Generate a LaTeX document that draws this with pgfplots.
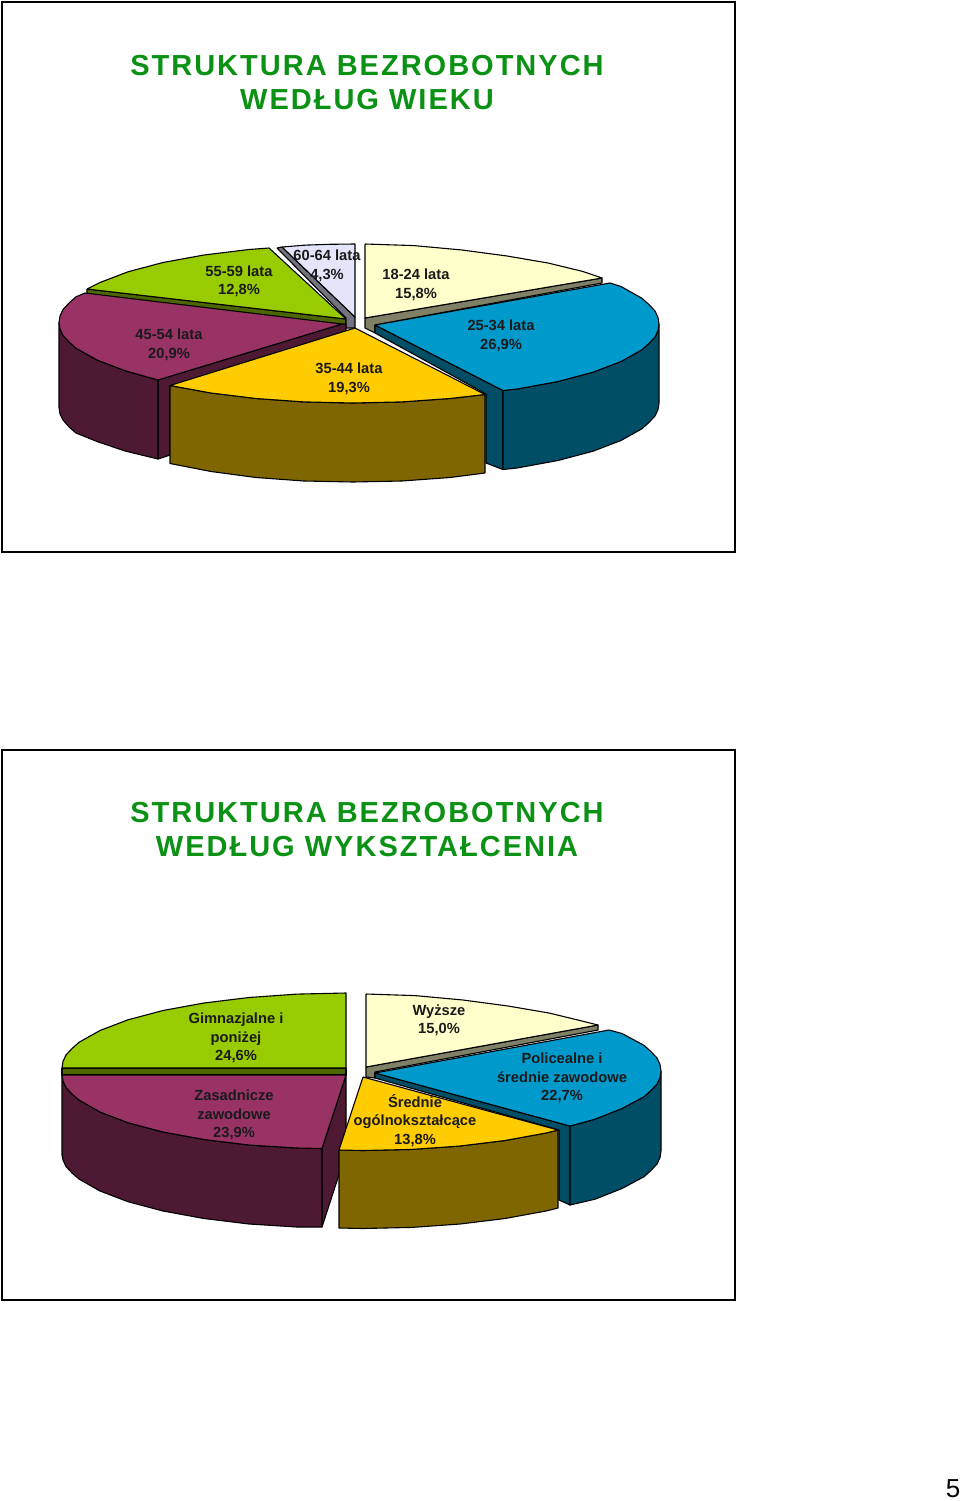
\documentclass[border=0pt]{standalone}
\usepackage{fontspec}
\usepackage{pgfplots}
\pgfplotsset{compat=1.18}
\setmainfont{Liberation Sans}
\newfontfamily\titlefont[LetterSpace=6.9]{Liberation Sans}
\definecolor{ttl}{HTML}{0B9214}
\definecolor{zgreen}{HTML}{99CC00}\definecolor{dgreen}{HTML}{4D6600}
\definecolor{zlav}{HTML}{E4E4FB}\definecolor{dlav}{HTML}{737380}
\definecolor{zpur}{HTML}{993366}\definecolor{dpur}{HTML}{4D1933}
\definecolor{zyel}{HTML}{FFCC00}\definecolor{dyel}{HTML}{806600}
\definecolor{zcre}{HTML}{FFFFCC}\definecolor{dcre}{HTML}{808066}
\definecolor{zblu}{HTML}{0099CC}\definecolor{dblu}{HTML}{004D66}
\definecolor{lbl}{HTML}{1A1A1A}
\tikzset{
  facet/.style={draw=black, line width=1.1pt, line join=round, mark=none},
  lab/.style={align=center, text=lbl, font=\fontsize{14.7}{18.5}\selectfont\bfseries},
  head/.style={align=center, text=ttl, font=\fontsize{29}{34}\titlefont\bfseries}}
\begin{document}
\begin{tikzpicture}
\useasboundingbox (0,0) rectangle (960pt,1501pt);
\begin{axis}[at={(0,0)}, anchor=south west, scale only axis, width=960pt, height=1501pt,
  xmin=0, xmax=960, ymin=0, ymax=1501, y dir=reverse, hide axis, clip=false]

% frames
\addplot[draw=black, line width=2.2pt, mark=none] coordinates {(2,2) (735,2) (735,552) (2,552) (2,2) (735,2)};
\addplot[draw=black, line width=2.2pt, mark=none] coordinates {(2,750) (735,750) (735,1300) (2,1300) (2,750) (735,750)};

% --- wiek ---
\addplot[facet, fill=dgreen] coordinates {(87,289) (346,319) (346,328) (87,294) (87,289)};
\addplot[facet, fill=zgreen] coordinates {(87,289) (100,282.5) (128,271.8) (163,262.5) (204,255) (249,249.5) (269,248) (346,319) (87,289)};

\addplot[facet, fill=dlav] coordinates {(277,248) (282,247) (355,317) (355,328) (346,328) (346,318) (277,248)};
\addplot[facet, fill=zlav] coordinates {(282,247) (306,245.1) (330,244.3) (355,244) (355,317) (282,247)};

\addplot[facet, fill=dpur] coordinates {(158,380) (342,324) (346,324) (346,332) (170,388) (170,455) (158,459) (158,380)};
\addplot[facet, fill=dpur] coordinates {(59,322.5) (60,329) (63,335.5) (69,341.9) (76,348.2) (97,360) (125,370.7) (158,380) (158,459) (125,451) (97,441.5) (76,433) (69,427) (63,420) (60,414) (59,407.5) (59,322.5)};
\addplot[facet, fill=zpur] coordinates {(85,293) (76,296.8) (69,303.1) (63,309.5) (60,316) (59,322.5) (60,329) (63,335.5) (69,341.9) (76,348.2) (97,360) (125,370.7) (158,380) (342,324) (85,293)};

\addplot[facet, fill=dcre] coordinates {(365,318) (602,278) (602,283) (375,325) (375,333) (365,328) (365,318)};
\addplot[facet, fill=zcre] coordinates {(365,244) (414,245.6) (462,250) (507,256) (548,263) (583,271.5) (602,278) (365,318) (365,244)};

\addplot[facet, fill=dblu] coordinates {(375,325) (503,390.5) (503,469.5) (486,463) (486,394) (375,333) (375,325)};
\addplot[facet, fill=dblu] coordinates {(659,324) (658,330.5) (655,337) (649,343.4) (642,349.7) (621,361.5) (593,372.2) (558,381.5) (517,389) (503,390.5) (503,469.5) (517,468) (558,460.5) (593,451.2) (621,440.5) (642,428.7) (649,422.4) (655,416) (658,409.5) (659,403) (659,324)};
\addplot[facet, fill=zblu] coordinates {(375,325) (610,283) (621,286.5) (642,298.3) (649,304.6) (655,311) (658,317.5) (659,324) (658,330.5) (655,337) (649,343.4) (642,349.7) (621,361.5) (593,372.2) (558,381.5) (517,389) (503,390.5) (375,325)};

\addplot[facet, fill=dyel] coordinates {(170,385.5) (211,393) (256,398.5) (304,401.9) (353,403) (402,401.9) (450,398.5) (485,394.5) (485,473) (450,477.5) (402,481) (353,482) (304,481) (256,477.5) (211,471.5) (170,463.5) (170,385.5)};
\addplot[facet, fill=zyel] coordinates {(355,328) (170,385.5) (211,393) (256,398.5) (304,401.9) (353,403) (402,401.9) (450,398.5) (485,394.5) (355,328)};

% --- wyksztalcenie ---
\addplot[facet, fill=dgreen] coordinates {(62,1068) (346,1068) (346,1075) (62,1075) (62,1068)};
\addplot[facet, fill=zgreen] coordinates {(62,1068) (63,1061.5) (66,1055) (72,1048.6) (79,1042.3) (100,1030.5) (128,1019.8) (163,1010.5) (204,1003) (249,997.5) (297,994.1) (346,993) (346,1068) (62,1068)};

\addplot[facet, fill=dpur] coordinates {(322,1148.5) (346,1075) (346,1153) (322,1227) (322,1148.5)};
\addplot[facet, fill=dpur] coordinates {(62,1075) (63,1081) (66,1087.5) (72,1094) (79,1100) (100,1112) (128,1122.7) (163,1132) (204,1139.5) (249,1145) (297,1148) (322,1148.5) (322,1227) (297,1227) (249,1224) (204,1218.5) (163,1211) (128,1201.7) (100,1191) (79,1179) (72,1173) (66,1166.5) (63,1160) (62,1155) (62,1075)};
\addplot[facet, fill=zpur] coordinates {(62,1075) (63,1081) (66,1087.5) (72,1094) (79,1100) (100,1112) (128,1122.7) (163,1132) (204,1139.5) (249,1145) (297,1148) (322,1148.5) (346,1075) (62,1075)};

\addplot[facet, fill=dcre] coordinates {(366,1067) (598,1025) (598,1030) (375,1072) (375,1078) (366,1077) (366,1067)};
\addplot[facet, fill=zcre] coordinates {(366,994) (415,995.6) (463,1000) (508,1006) (549,1013) (584,1021.5) (598,1025) (366,1067) (366,994)};

\addplot[facet, fill=dblu] coordinates {(375,1073) (570,1126) (570,1205) (559,1200) (559,1130) (375,1078) (375,1073)};
\addplot[facet, fill=dblu] coordinates {(661,1071) (660,1077.5) (657,1084) (651,1090.4) (644,1096.7) (622,1108.5) (595,1119.2) (570,1126) (570,1205) (595,1199.2) (622,1188.5) (644,1176.7) (651,1170.4) (657,1164) (660,1157.5) (661,1151) (661,1071)};
\addplot[facet, fill=zblu] coordinates {(375,1073) (609,1030) (622,1033.5) (644,1045.3) (651,1051.6) (657,1058) (660,1064.5) (661,1071) (660,1077.5) (657,1084) (651,1090.4) (644,1096.7) (622,1108.5) (595,1119.2) (570,1126) (375,1073)};

\addplot[facet, fill=dyel] coordinates {(339,1150) (363,1150.5) (412,1149.4) (460,1146) (505,1140.5) (546,1133) (558,1130) (558,1208) (546,1211) (505,1218.5) (460,1224) (412,1227.4) (363,1228.5) (339,1228) (339,1150)};
\addplot[facet, fill=zyel] coordinates {(363,1077) (339,1150) (363,1150.5) (412,1149.4) (460,1146) (505,1140.5) (546,1133) (558,1130) (363,1077)};

% texts
\node[head] at (axis cs:367,82.5) {STRUKTURA BEZROBOTNYCH\\WEDŁUG WIEKU};
\node[head] at (axis cs:367,829.5) {STRUKTURA BEZROBOTNYCH\\WEDŁUG WYKSZTAŁCENIA};

\node[lab] at (axis cs:239,281.5) {55-59 lata\\12,8\%};
\node[lab] at (axis cs:327,266) {60-64 lata\\4,3\%};
\node[lab] at (axis cs:416,285) {18-24 lata\\15,8\%};
\node[lab] at (axis cs:169,345) {45-54 lata\\20,9\%};
\node[lab] at (axis cs:501,336) {25-34 lata\\26,9\%};
\node[lab] at (axis cs:349,379) {35-44 lata\\19,3\%};

\node[lab] at (axis cs:236,1038) {Gimnazjalne i\\poniżej\\24,6\%};
\node[lab] at (axis cs:234,1115) {Zasadnicze\\zawodowe\\23,9\%};
\node[lab] at (axis cs:439,1020.5) {Wyższe\\15,0\%};
\node[lab] at (axis cs:562,1078) {Policealne i\\średnie zawodowe\\22,7\%};
\node[lab] at (axis cs:415,1120.5) {Średnie\\ogólnokształcące\\13,8\%};

\node[font=\fontsize{26}{26}\selectfont, text=black] at (axis cs:953,1489) {5};
\end{axis}
\end{tikzpicture}
\end{document}
